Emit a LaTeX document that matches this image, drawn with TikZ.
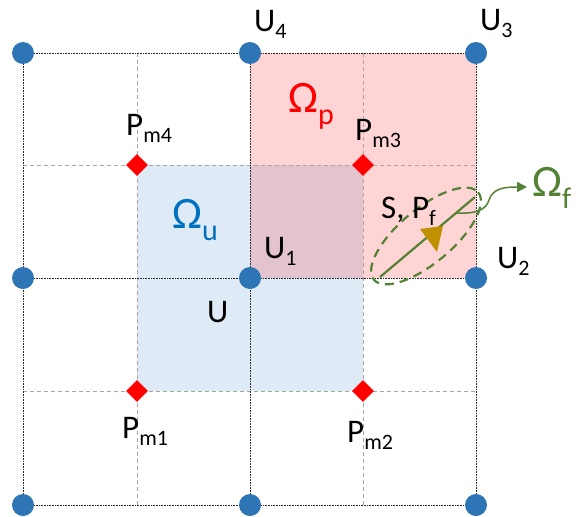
\documentclass[tikz,border=0pt]{standalone}
\usepackage{fontspec}
\setmainfont{Carlito}
\usetikzlibrary{arrows.meta,shapes.geometric}
\definecolor{nodeblue}{HTML}{2E75B6}
\definecolor{fillblue}{HTML}{DEEBF7}
\definecolor{omegablue}{HTML}{0070C0}
\definecolor{fgreen}{HTML}{548235}
\definecolor{gold}{HTML}{BF9000}
\definecolor{gridgray}{HTML}{A6A6A6}
\newcommand{\lb}[2]{#1\raisebox{-7pt}{\fontsize{22}{22}\selectfont #2}}
\newcommand{\omg}[1]{{\fontsize{45}{45}\selectfont Ω}\raisebox{-12pt}{\fontsize{30}{30}\selectfont #1}}
\begin{document}
\begin{tikzpicture}[x=1pt,y=-1pt,
  vtx/.style={circle,fill=nodeblue,minimum size=22pt,inner sep=0pt},
  pm/.style={diamond,fill=red,minimum size=22pt,inner sep=0pt},
  lbl/.style={anchor=base west,inner sep=0pt,font=\fontsize{33}{38}\selectfont},
  dotline/.style={densely dotted,line width=0.6pt,black!85},
  dashline/.style={dash pattern=on 4pt off 3pt,line width=0.8pt,gridgray},
  gline/.style={fgreen,line width=2.2pt}]
\useasboundingbox (0,0) rectangle (577,516);
% grid coordinates
\coordinate (A1) at (23,53);  \coordinate (A2) at (250,53);  \coordinate (A3) at (476,53);
\coordinate (B1) at (23,278); \coordinate (B2) at (250,278); \coordinate (B3) at (476,278);
\coordinate (C1) at (23,505); \coordinate (C2) at (250,505); \coordinate (C3) at (476,505);
\coordinate (P4) at (137,165); \coordinate (P3) at (363,165);
\coordinate (P1) at (137,391); \coordinate (P2) at (363,391);
% fills
\fill[fillblue] (P4) rectangle (P2);
\fill[red,fill opacity=0.17] (A2) rectangle (B3);
% dashed lines
\coordinate (dv1t) at (137,53); \coordinate (dv1b) at (137,505);
\coordinate (dv2t) at (363,53); \coordinate (dv2b) at (363,505);
\coordinate (dh1l) at (23,165); \coordinate (dh1r) at (476,165);
\coordinate (dh2l) at (23,391); \coordinate (dh2r) at (476,391);
\draw[dashline] (dv1t) -- (dv1b);
\draw[dashline] (dv2t) -- (dv2b);
\draw[dashline] (dh1l) -- (dh1r);
\draw[dashline] (dh2l) -- (dh2r);
% dotted grid
\draw[dotline] (A1) -- (A3);
\draw[dotline] (B1) -- (B3);
\draw[dotline] (C1) -- (C3);
\draw[dotline] (A1) -- (C1);
\draw[dotline] (A2) -- (C2);
\draw[dotline] (A3) -- (C3);
% vertices
\foreach \n in {A1,A2,A3,B1,B2,B3,C1,C2,C3}{\node[vtx] (v\n) at (\n) {};}
\foreach \n in {P1,P2,P3,P4}{\node[pm] (d\n) at (\n) {};}
% fracture
\coordinate (fs) at (380,277); \coordinate (fe) at (475,197);
\draw[gline] (fs) -- (fe);
\draw[gline,dash pattern=on 9pt off 6pt,rotate around={40:(426,236)}] (426,236) ellipse (68 and 27);
\fill[gold] (420,229) -- (443,226) -- (437,252) -- cycle;
\coordinate (cs) at (456,213); \coordinate (ce) at (527,187);
\draw[fgreen,line width=1.5pt,-{Triangle[length=10pt,width=10pt]}] (cs) .. controls (476,214) and (486,210) .. (489,200) .. controls (493,188) and (505,187) .. (ce);
% labels
\node[lbl] (u4) at (254,32) {\lb{U}{4}};
\node[lbl] (u3) at (480,31) {\lb{U}{3}};
\node[lbl] (pm4) at (126,135) {\lb{P}{m4}};
\node[lbl] (pm3) at (355,140) {\lb{P}{m3}};
\node[lbl] (u1) at (264,258) {\lb{U}{1}};
\node[lbl] (u2) at (497,268) {\lb{U}{2}};
\node[lbl] (u) at (207,322) {U};
\node[lbl] (pm1) at (122,438) {\lb{P}{m1}};
\node[lbl] (pm2) at (347,442) {\lb{P}{m2}};
\node[lbl] (spf) at (381,218) {S, \lb{P}{f}};
\node[lbl,text=omegablue] (ou) at (172,228) {\omg{u}};
\node[lbl,text=red] (op) at (288,112) {\omg{p}};
\node[lbl,text=fgreen] (of) at (532,196) {\omg{f}};
\end{tikzpicture}
\end{document}
